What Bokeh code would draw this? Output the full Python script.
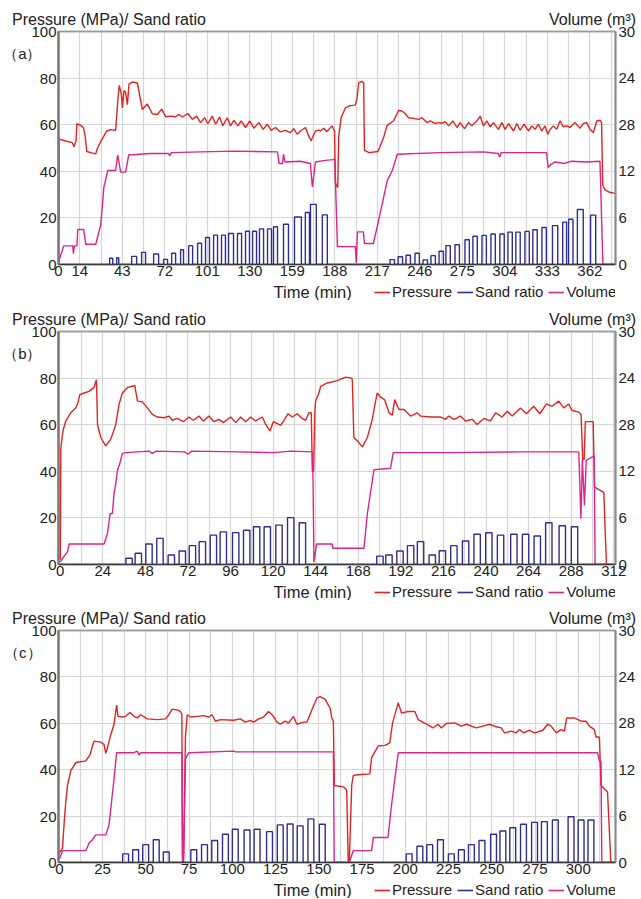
from bokeh.plotting import figure
from bokeh.models import Range1d, LinearAxis, FixedTicker, Label, Legend, LegendItem
from bokeh.layouts import column
from bokeh.embed import file_html
from bokeh.resources import INLINE

# ---------------- Panel (a) ----------------
xticks_a = [0, 14.5, 43.5, 72.5, 101.5, 130.5, 159.5, 188.5, 217.5, 246.5, 275.5, 304.5, 333.5, 362.5]
xlabels_a = ["0", "14", "43", "72", "101", "130", "159", "188", "217", "246", "275", "304", "333", "362"]

press_a_t = [0, 0.5, 1.1, 4.8, 9.5, 10.5, 12, 12.5, 15.2, 17, 18.2, 19.3, 22, 25.4, 26.6, 29, 31, 32.9, 35.6, 39,
             40.6, 41.5, 42.9, 43.6, 44.7, 45.8, 47, 48.1, 50.4, 53.8, 54.9, 57.2, 60.6, 64, 67.4, 70.4, 73.1, 76.5,
             79.9, 82.2, 84.5, 88.3, 91.3, 94.2, 96.9, 99.7, 101.9, 104.9, 107.2, 109.9, 112.1, 115.1, 117.4, 119.6,
             122.4, 124.6, 127.6, 130.5, 133.2, 136.7, 139.6, 142.4, 145.1, 148, 151.4, 154.8, 158.2, 160.5, 162.8,
             165, 168.5, 170.7, 172.3, 175.3, 177.5, 178.7, 181, 183, 186.6, 188.3, 188.9, 190.5, 191.2, 192.8,
             195.7, 199.1, 202.5, 203.7, 204.8, 207.1, 208.2, 208.7, 212, 218, 221.8, 224.1, 228.6, 232, 234.3,
             236.6, 238.8, 242.2, 245.6, 248, 251.4, 253.6, 257, 259.3, 261.6, 263.8, 266.1, 269.1, 271.8, 274,
             277, 279.7, 282, 285.4, 287.7, 289.9, 292.2, 294.5, 296.7, 300.1, 302.5, 304.7, 307, 310.4, 312.7,
             314.9, 317.6, 320.6, 322.9, 325.1, 327.4, 329.7, 331.9, 333.8, 335.4, 337.6, 339.9, 342.2, 344.4,
             346.7, 349, 352.4, 355.8, 358, 360.4, 362.6, 364.9, 367.2, 369.4, 370.5, 371.3, 373, 376, 379.5]
press_a_v = [0.5, 54, 53.7, 53.0, 52.3, 50.5, 53, 60.4, 59.7, 58.7, 55, 48.5, 48, 47.5, 50, 53, 55.2, 57.3, 57.9, 57.6,
             71.5, 76.9, 72.9, 67.2, 74.6, 73.9, 68.6, 77.4, 78.3, 77.9, 74.3, 66.5, 68.9, 64.7, 64.4, 66.7, 63.4, 63.7,
             63.4, 64.4, 63.3, 64.8, 62.3, 63.7, 60.9, 63, 60.4, 63.7, 60.2, 63.3, 59.5, 63, 59.5, 61.9,
             59.5, 61.6, 58.8, 61.6, 58.5, 60.9, 58, 60.2, 57.6, 58.8, 56.9, 57.6, 56.6, 58.3, 55.9,
             57.3, 58.8, 55.2, 53.1, 57.3, 57.7, 57.3, 58.5, 57, 59.5, 57.3, 35, 33, 55, 63,
             67.2, 68.2, 68.4, 71.5, 77.9, 78.6, 77.9, 49, 48, 48.5, 54.5, 59.6, 61.7, 66.1, 65.9,
             64.7, 63, 62.7, 62.3, 63, 60.9, 61.6, 60.5, 60.9, 60.6, 61.3, 59.5, 61.6, 58.8, 60.9,
             58.3, 60.9, 59.5, 61.6, 63.7, 59.5, 61.6, 59.1, 60.9, 58, 60.9, 58, 60.5, 57.3, 60.5,
             57.6, 60.2, 57.3, 59.5, 58, 60.2, 57.3, 59.5, 55.9, 58, 59.5, 58, 61.7, 59.1,
             59.5, 58.8, 60.9, 58.5, 60.5, 60.9, 58, 56.6, 61.6, 61.9, 60.9, 34, 32, 31, 30.5]

vol_a_t = [0, 3.6, 9.7, 10.2, 10.8, 12.6, 13.1, 17.2, 18.6, 25.4, 28.8, 30.2, 30.9, 33.6, 39, 40.4, 42.4, 45.8, 47.9,
           62.9, 75, 76, 77, 97, 120, 149.4, 150.5, 152.8, 153.5, 154.5, 165, 171.8, 173.2, 175.3, 182, 187.5, 188.5,
           190.3, 202.5, 203.2, 203.9, 208, 208.7, 214.8, 217.5, 224.3, 227.7, 231.1, 260, 290, 300, 301, 302, 333,
           334, 336, 338.8, 345, 350, 360, 369.4, 371.4, 380]
vol_a_v = [0.3, 2.4, 2.4, 1.4, 2.4, 2.4, 4.5, 4.5, 2.6, 2.6, 5.1, 8.1, 9.9, 12.1, 12.1, 14.1, 11.9, 11.9, 14.1,
           14.3, 14.3, 14.0, 14.4, 14.5, 14.6, 14.5, 13.0, 13.0, 14.2, 13.2, 13.3, 13.0, 10.0, 13.2, 13.4, 13.5, 13.6,
           2.3, 2.3, 0.2, 4.2, 4.2, 2.7, 2.7, 4.9, 10.8, 12.1, 14.2, 14.4, 14.5, 14.3, 13.8, 14.4, 14.4,
           12.5, 12.9, 13.2, 13.0, 13.3, 13.2, 13.3, 0, 0]

sand_a_start = [34.9, 39.7, 49.9, 56.7, 64.9, 71.7, 77.2, 83.3, 88.8, 94.9, 100.3, 105.8, 111.2, 116.0, 122.1, 127.6,
                132.4, 137.1, 142.6, 146.7, 153.5, 161.0, 168.4, 171.9, 180.0,
                226.2, 231.7, 237.1, 243.2, 248.7, 254.1, 259.6, 264.3, 270.5, 277.3, 282.7, 288.9, 295.0, 301.1,
                306.6, 312.0, 318.2, 323.6, 329.8, 337.0, 344.0, 348.0, 354.0, 363.0]
sand_a_end = [37.0, 41.1, 53.3, 59.4, 68.3, 74.4, 79.9, 85.3, 91.5, 97.6, 103.0, 108.5, 113.9, 119.4, 124.9, 130.3,
              135.1, 139.9, 145.3, 149.4, 156.9, 165.7, 171.2, 175.9, 183.4,
              229.2, 234.7, 240.1, 246.2, 251.7, 257.1, 262.6, 267.3, 273.5, 280.3, 285.7, 291.9, 298.0, 304.1,
              309.6, 315.0, 321.2, 326.6, 332.8, 340.6, 346.6, 351.0, 358.0, 366.5]
sand_a_h = [2.7, 2.9, 3.5, 5.2, 4.5, 2.2, 4.8, 6.3, 8.1, 9.1, 11.6, 12.6, 12.6, 13.3, 13.3, 14.3,
            14.3, 15.3, 15.3, 16.2, 17.3, 20.4, 22.3, 25.8, 21.3,
            2.1, 3.3, 4.0, 4.8, 2.0, 3.8, 5.7, 8.1, 8.5, 10.6, 12.1, 12.5, 13.1, 13.1,
            13.9, 13.9, 14.2, 14.9, 15.9, 16.7, 18.2, 19.4, 23.6, 21.2]

# ---------------- Panel (b) ----------------
xticks_b = [0, 24, 48, 72, 96, 120, 144, 168, 192, 216, 240, 264, 288, 312]

press_b_t = [0, 0.3, 1.5, 3.1, 5.9, 8.7, 10, 11, 13.4, 16.2, 19, 20.4, 21, 22.8, 25.6, 28.5, 31.3, 33.1, 35, 37.9,
             40.7, 42, 43.5, 46.3, 49.1, 51.9, 54.8, 58.5, 61.3, 63.2, 66, 69.4, 72.6, 75, 78.2, 80.7, 83.8, 86.6,
             89.5, 91.9, 96, 98.9, 101.7, 104.5, 107.3, 110.1, 113.9, 115.8, 118.2, 120.1, 122.4, 124.2, 126.5,
             128.3, 130.8, 133.6, 136.4, 138.3, 140.2, 141.5, 142.1, 142.8, 143.5, 143.9, 145.8, 146.8, 150.5,
             156.2, 160.8, 163.7, 164.6, 165.5, 167.4, 170.3, 173.1, 175.9, 177.2, 178.7, 180.6, 182.8, 185.3,
             187.2, 188.5, 190.9, 193.7, 195.2, 197.5, 201.2, 203.1, 208.7, 214.4, 217.2, 219, 221.9, 225.6,
             228.5, 232.2, 235, 238.8, 242.5, 245.4, 249.1, 251.9, 254.8, 259.4, 262.8, 266.9, 270.3, 274.1,
             277.3, 281, 283.8, 286.6, 288.5, 292.3, 293.6, 294.5, 295.3, 296, 300.4, 301.2, 306.4, 307.9]
press_b_v = [2, 50, 57.3, 61.6, 65.1, 67.2, 69.4, 72.9, 73.6, 74.3, 76, 79.3, 60.1, 54.5, 50.9, 53.8, 60.1, 68.6, 73.6, 76,
             76.5, 76.9, 70.1, 69.8, 67.2, 64.4, 63.3, 63, 63.7, 61.9, 62.7, 61.3, 63.3, 61.9, 63.7, 61.6, 63.7, 61.3,
             62.3, 60.9, 63.3, 60.9, 63.3, 61.3, 63.3, 61.6, 63.3, 60.1, 57.3, 61.3, 60.5, 59.7, 62.3,
             64.7, 63.3, 64.7, 62.7, 61.9, 65.1, 65.1, 40, 40, 65, 70.1, 73.6, 76.5, 77.9,
             78.9, 80.4, 80.1, 79.6, 54.5, 53.1, 50.5, 54.5, 62.3, 67.9, 73.6, 71.8, 70.8, 65.1,
             64.1, 70.8, 66.5, 66.5, 65.4, 63.7, 65.1, 63.7, 63.3, 63.3, 62.3, 63.7, 62.3, 63.7,
             61.6, 62.3, 60.1, 62.7, 61.6, 65.1, 63.3, 65.8, 63.7, 67.2, 64.7, 67.9, 64.7, 68.9,
             67.9, 70.1, 67.2, 68.9, 66.1, 65.4, 64.4, 45, 45, 61.3, 61.3, 33.2, 31, 0]

vol_b_t = [0, 2.1, 4.1, 5, 24.7, 26.6, 28.1, 29.4, 30.3, 31.3, 32.2, 33.7, 35, 36.9, 50, 52, 54, 70, 72, 74, 100, 120,
           130, 142.1, 142.5, 143, 144.5, 153.3, 153.6, 171.2, 173.1, 176.8, 186.2, 187.7, 220, 260, 292.3, 293.5,
           294.3, 295.5, 296.5, 301, 301.5, 313]
vol_b_v = [0.3, 1.05, 1.65, 2.64, 2.64, 4.0, 6.5, 6.6, 9.1, 10.4, 12.1, 13.1, 14.3, 14.4, 14.6, 14.3, 14.6, 14.5, 14.2,
           14.6, 14.5, 14.4, 14.6, 14.5, 10.8, 0.3, 2.64, 2.64, 2.1, 2.1, 6.5, 12.2, 12.4, 14.4, 14.4, 14.5, 14.5, 5.9,
           13.5, 7.6, 13.4, 14.0, 0, 0]

sand_b_mid = [38.8, 44, 50, 56.2, 62.6, 68.8, 74.5, 80.1, 86.3, 91.9, 98.9, 105.1, 110.7, 116.7, 123.3, 129.9, 136.5,
              180.2, 185.3, 191.5, 197.5, 203.1, 209.7, 215.4, 221.9, 228.5, 235, 241.6, 248.2, 255.7, 262.3, 268.9,
              275.4, 283, 289.9]
sand_b_h = [2.7, 4.8, 8.8, 11.2, 4.1, 5.8, 8.1, 9.8, 12.6, 14.0, 13.7, 14.7, 16.2, 16.2, 16.9, 20.1, 17.9,
            3.6, 4.1, 5.8, 8.1, 9.8, 4.1, 5.9, 8.1, 10.1, 13.0, 13.6, 12.6, 13.0, 13.0, 12.2,
            17.9, 16.6, 16.2]
sand_b_w = 3.6

# ---------------- Panel (c) ----------------
xticks_c = [0, 25, 50, 75, 100, 125, 150, 175, 200, 225, 250, 275, 300]

press_c_t = [0, 1.8, 2.8, 3.7, 4.7, 6.6, 9.5, 15.3, 17.8, 19.1, 20.1, 23.9, 25.8, 26.8, 27.8, 29.5, 31.6, 33.1, 33.9,
             36.4, 38.3, 40.8, 43.1, 45.1, 47, 50.8, 56.6, 61.4, 63.3, 65.2, 68.1, 70, 70.8, 71.2, 71.8, 72.9, 73.9,
             75.8, 79.7, 83.5, 86.3, 88.3, 90.2, 93.1, 100.7, 104.6, 107.5, 110.4, 112.3, 115.2, 118, 120.9, 123.8,
             125.8, 127.7, 130.5, 132.5, 135.3, 137.3, 141.1, 143.1, 146, 148.8, 150.7, 153.6, 156.5, 157.5, 158.4,
             159, 164.2, 166.1, 167, 167.6, 169, 169.9, 170.9, 179.5, 180.5, 184.3, 188.2, 191, 192.6, 195.9, 197.8,
             201.6, 205.5, 207.4, 212.2, 216, 218.9, 220.9, 223.7, 228.5, 232.4, 235.3, 241, 244.8, 248.7, 252.6,
             255.4, 257.4, 261.2, 264.1, 266, 268.3, 271.8, 274.7, 279.5, 282.3, 284.3, 287.2, 290, 292, 293.3,
             297.7, 301.6, 304.4, 306.4, 309.3, 310.2, 312.2, 313.1, 316.9, 318.8]
press_c_v = [4.1, 6.2, 17.4, 26, 33.2, 39.6, 43.1, 43.8, 46.6, 50.2, 52.3, 51.9, 50.9, 47, 49.5, 54.5, 59.6, 67.9, 63,
             62.7, 63, 64.7, 63, 62.3, 63.7, 61.9, 61.6, 61.9, 63.7, 66.1, 65.8, 65.1, 64, 2, 2, 54.5, 63.7,
             62.7, 63, 63.3, 62.7, 63.7, 60.9, 61.6, 61.3, 61.9, 60.5, 61.3, 60.5, 61.9, 62.7, 65.1, 63,
             60.5, 59.6, 60.9, 60.1, 63, 59.6, 60.5, 60.5, 65.8, 70.8, 71.5, 70.4, 66.5, 62.3, 60.9,
             33.2, 32.6, 31.2, 0.5, 0.5, 33.2, 37.4, 37.7, 38.2, 45.2, 50.2, 50.5, 51.6, 60.1, 68.9, 64.4,
             65.1, 65.1, 61.6, 59.6, 58, 59.6, 58, 59.9, 60.2, 58.8, 59.6, 58, 58.8, 59.6, 58.5,
             58, 55.9, 56.6, 55.9, 57.3, 55.9, 57, 55.9, 57, 59.6, 58.8, 55.9, 57.3, 56.6, 62.3,
             62.3, 60.9, 60.9, 58.8, 57.3, 54.1, 54.1, 33.2, 30.4, 0]

vol_c_t = [0, 1.8, 15.3, 17.2, 19.1, 21, 26.8, 28.7, 31.6, 33.1, 43.1, 45.1, 46, 47, 70.8, 71.2, 71.8, 72.9, 74.8,
           100.7, 102, 158.4, 158.9, 167.6, 169.9, 180.5, 181.5, 190, 192, 195.9, 311.1, 312.2, 313.1, 313.6, 321]
vol_c_v = [0.45, 1.53, 1.53, 2.52, 2.94, 3.57, 3.57, 4.86, 10.8, 14.2, 14.2, 14.4, 13.9, 14.2, 14.2, 0, 0, 13.4, 14.2,
           14.4, 14.3, 14.3, 0, 0, 1.53, 1.53, 3.24, 3.24, 7.4, 14.2, 14.2, 13.1, 13.1, 0, 0]

sand_c_mid = [38.3, 44.1, 49.9, 56, 61.8, 77.7, 83.9, 89.8, 96, 101.7, 108.5, 114.3, 121.5, 127.7, 133.4, 139.2, 145.4,
              152, 202.2, 208.4, 214.1, 220.3, 226.6, 232.4, 238.2, 244.3, 251, 256.4, 262.1, 268.3, 274.7, 280.4,
              286.7, 295.8, 301.6, 307.3]
sand_c_h = [3.7, 5.5, 7.7, 9.8, 4.5, 5.5, 7.7, 9.5, 12.2, 14.3, 14.0, 14.3, 13.3, 16.2, 16.6, 15.8, 18.8,
            16.5, 3.7, 7.0, 7.7, 9.8, 3.7, 5.5, 7.7, 9.5, 12.2, 13.6, 15.0, 16.5, 17.3, 17.6,
            18.3, 19.7, 18.3, 18.3]
sand_c_w = 3.4

PRESS_COL = "#e4231f"
SAND_COL = "#2e2f8f"
VOL_COL = "#e0228b"
FONT = "Liberation Sans"
TXT = "#222222"

W = 640
BL, BR, BB = 58, 25, 18
FRAME_W = W - BL - BR


def pulse_line(starts, ends, heights, t0, t1):
    xs, ys = [t0], [0]
    for s, e, h in zip(starts, ends, heights):
        xs += [s, s, e, e]
        ys += [0, h, h, 0]
    xs.append(t1)
    ys.append(0)
    return xs, ys


def style_axis(ax, size="15px", standoff=2):
    ax.major_tick_in = 0
    ax.major_tick_out = 0
    ax.minor_tick_in = 0
    ax.minor_tick_out = 0
    ax.major_label_text_font = FONT
    ax.major_label_text_font_size = size
    ax.major_label_text_color = TXT
    ax.major_label_standoff = standoff


def make_panel(tag, xr, xticks, xlabels, grid_x, pt, pv, vt, vv, s_start, s_end, s_h, top, frame_h, foot_h):
    p = figure(width=W, height=top + frame_h + BB, x_range=Range1d(*xr), y_range=Range1d(0, 100),
               output_backend="svg", toolbar_location=None,
               min_border_left=BL, min_border_right=BR, min_border_top=top, min_border_bottom=BB)
    p.extra_y_ranges = {"vol": Range1d(0, 30)}
    p.outline_line_color = "#9a9a9a"
    p.outline_line_width = 1.5

    p.xgrid.ticker = FixedTicker(ticks=grid_x)
    p.ygrid.ticker = FixedTicker(ticks=[20, 40, 60, 80])
    p.xgrid.grid_line_color = "#d6d6d6"
    p.ygrid.grid_line_color = "#d6d6d6"
    p.xgrid.grid_line_width = 1.2
    p.ygrid.grid_line_width = 1.2

    xa = p.xaxis[0]
    xa.ticker = FixedTicker(ticks=xticks)
    if xlabels is not None:
        xa.major_label_overrides = {t: l for t, l in zip(xticks, xlabels)}
    style_axis(xa, standoff=1)
    xa.axis_line_color = "#3a3a3a"
    xa.axis_line_width = 1.5

    # left axis; the panel tag sits in the left margin like the reference
    tag_pos = round(100 - 22 * 100 / frame_h, 2)
    ya = p.yaxis[0]
    ya.ticker = FixedTicker(ticks=[0, 20, 40, 60, 80, tag_pos, 100])
    ya.major_label_overrides = {tag_pos: "（" + tag + "）\u3000"}
    style_axis(ya, standoff=2)
    ya.axis_line_color = "#7a7a7a"
    ya.axis_line_width = 2.5

    ra = LinearAxis(y_range_name="vol", ticker=FixedTicker(ticks=[0, 6, 12, 18, 24, 30]),
                    major_label_overrides={18: "28"})
    p.add_layout(ra, "right")
    style_axis(ra, standoff=3)
    ra.axis_line_color = "#8a8a8a"
    ra.axis_line_width = 2

    # header texts above the frame
    span = xr[1] - xr[0]
    t_left = round(xr[0] + (108.5 - BL) * span / FRAME_W, 3)
    t_right = round(xr[0] + (592 - BL) * span / FRAME_W, 3)
    ta = LinearAxis(ticker=FixedTicker(ticks=[t_left, t_right]),
                    major_label_overrides={t_left: "Pressure (MPa)/ Sand ratio", t_right: "Volume (m³)"})
    p.add_layout(ta, "above")
    style_axis(ta, size="16px", standoff=4)
    ta.axis_line_color = "#9a9a9a"
    ta.axis_line_width = 1.5

    p.line(pt, pv, line_color=PRESS_COL, line_width=1.4)
    p.line(vt, vv, line_color=VOL_COL, line_width=1.4, y_range_name="vol")
    sx, sy = pulse_line(s_start, s_end, s_h, max(xr[0], 0), xr[1])
    p.line(sx, sy, line_color=SAND_COL, line_width=1.4)

    # footer: axis title and legend (same series, drawn off-range so only the key shows)
    f = figure(width=W, height=foot_h, x_range=Range1d(-30, -20), y_range=Range1d(-30, -20),
               x_axis_location=None, y_axis_location=None, output_backend="svg",
               toolbar_location=None, min_border_left=BL, min_border_right=BR,
               min_border_top=0, min_border_bottom=0, outline_line_color=None)
    f.grid.visible = False
    lp = f.line(pt, pv, line_color=PRESS_COL, line_width=1.6)
    ls = f.line(sx, sy, line_color=SAND_COL, line_width=1.6)
    lv = f.line(vt, vv, line_color=VOL_COL, line_width=1.6)
    f.add_layout(Label(x=273 - BL, y=foot_h / 2, x_units="screen", y_units="screen", text="Time (min)",
                       text_font=FONT, text_font_size="16.5px", text_baseline="middle", text_color=TXT))
    legend = Legend(items=[LegendItem(label="Pressure", renderers=[lp]),
                           LegendItem(label="Sand ratio", renderers=[ls]),
                           LegendItem(label="Volume", renderers=[lv])],
                    location=(374 - BL, 0), orientation="horizontal",
                    border_line_alpha=0, background_fill_alpha=0, padding=0, margin=0,
                    spacing=5, glyph_width=16, glyph_height=14, label_standoff=2,
                    label_text_font=FONT, label_text_font_size="15px", label_text_color=TXT,
                    label_height=14)
    f.add_layout(legend)
    return [p, f]


grid_a = [14.5 * k for k in range(1, 27)]
grid_b = [12 * k for k in range(1, 27)]
grid_c = [12.5 * k for k in range(1, 26)]

sand_b_start = [m - sand_b_w / 2 for m in sand_b_mid]
sand_b_end = [m + sand_b_w / 2 for m in sand_b_mid]
sand_c_start = [m - sand_c_w / 2 for m in sand_c_mid]
sand_c_end = [m + sand_c_w / 2 for m in sand_c_mid]

rows = []
rows += make_panel("a", (0, 380), xticks_a, xlabels_a, grid_a, press_a_t, press_a_v, vol_a_t, vol_a_v,
                   sand_a_start, sand_a_end, sand_a_h, 31, 233, 18)
rows += make_panel("b", (-1, 313), xticks_b, None, grid_b, press_b_t, press_b_v, vol_b_t, vol_b_v,
                   sand_b_start, sand_b_end, sand_b_h, 31, 233, 18)
rows += make_panel("c", (-0.5, 321.5), xticks_c, None, grid_c, press_c_t, press_c_v, vol_c_t, vol_c_v,
                   sand_c_start, sand_c_end, sand_c_h, 30, 232, 18)

layout = column(*rows, spacing=0)
open("out.html", "w").write(file_html(layout, INLINE))
